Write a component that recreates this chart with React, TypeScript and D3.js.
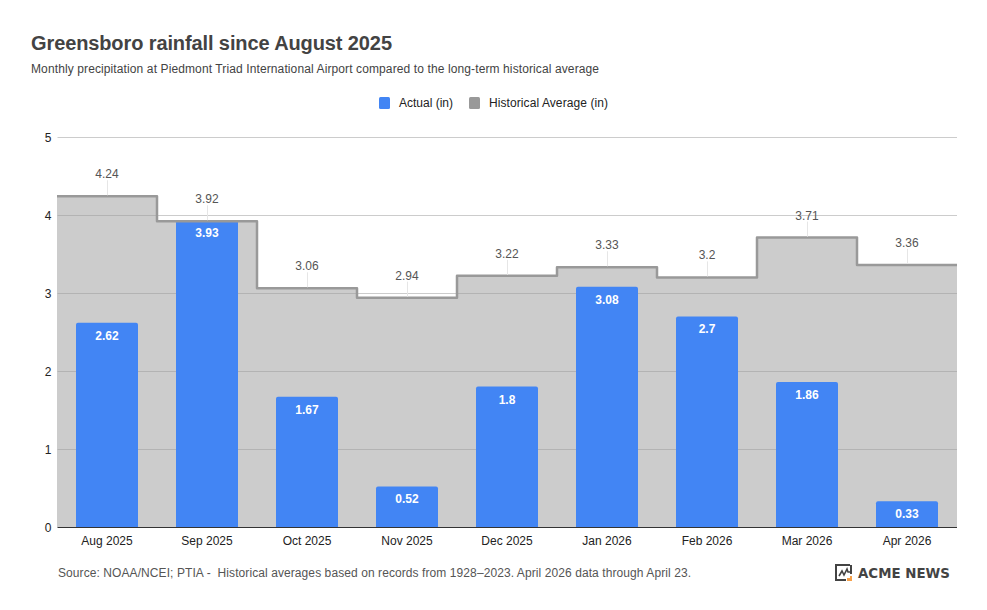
import { useEffect, useRef } from "react";
import * as d3 from "d3";

const months = ["Aug 2025", "Sep 2025", "Oct 2025", "Nov 2025", "Dec 2025", "Jan 2026", "Feb 2026", "Mar 2026", "Apr 2026"];
const actual = [2.62, 3.93, 1.67, 0.52, 1.8, 3.08, 2.7, 1.86, 0.33];
const historical = [4.24, 3.92, 3.06, 2.94, 3.22, 3.33, 3.2, 3.71, 3.36];
const yTicks = [0, 1, 2, 3, 4, 5];

const WIDTH = 987;
const HEIGHT = 610;
const FONT = "'Liberation Sans', Arial, sans-serif";

export default function App() {
  const svgRef = useRef<SVGSVGElement>(null);

  useEffect(() => {
    if (!svgRef.current) return;
    const svg = d3.select(svgRef.current);
    svg.selectAll("*").remove();

    const x = d3.scaleBand<string>().domain(months).range([57, 957]).paddingInner(0.38).paddingOuter(0.19);
    const step = x.step();
    const left = (i: number) => x(months[i])! + x.bandwidth() / 2 - step / 2;
    const y = d3.scaleLinear().domain([0, 5]).range([527, 137]);

    svg.append("rect").attr("width", WIDTH).attr("height", HEIGHT).attr("fill", "#fff");

    // Gridlines
    svg.selectAll("line.grid")
      .data(yTicks.filter((t) => t > 0))
      .join("line")
      .attr("x1", 57.5)
      .attr("x2", 957)
      .attr("y1", (d) => y(d) + 0.5)
      .attr("y2", (d) => y(d) + 0.5)
      .attr("stroke", "#cccccc");

    // Stepped historical area, last value repeated to close the final band
    const stepData: [number, number][] = historical.map((v, i) => [left(i), v]);
    stepData.push([left(months.length - 1) + step, historical[historical.length - 1]]);

    const area = d3.area<[number, number]>()
      .curve(d3.curveStepAfter)
      .x((d) => d[0])
      .y0(y(0))
      .y1((d) => y(d[1]));
    const line = d3.line<[number, number]>()
      .curve(d3.curveStepAfter)
      .x((d) => d[0])
      .y((d) => y(d[1]));

    svg.append("path").attr("d", area(stepData)).attr("fill", "#999999").attr("fill-opacity", 0.5);

    // Bars
    svg.selectAll("path.bar")
      .data(actual)
      .join("path")
      .attr("fill", "#4285f4")
      .attr("d", (d, i) => {
        const bx = x(months[i])!;
        const w = x.bandwidth();
        const top = y(d);
        const r = 2;
        return `M${bx},${y(0)}V${top + r}Q${bx},${top} ${bx + r},${top}H${bx + w - r}Q${bx + w},${top} ${bx + w},${top + r}V${y(0)}Z`;
      });

    svg.append("path")
      .attr("d", line(stepData))
      .attr("fill", "none")
      .attr("stroke", "#999999")
      .attr("stroke-width", 2.5)
      .attr("stroke-linejoin", "round");

    // Leader lines and historical labels
    svg.selectAll("line.leader")
      .data(historical)
      .join("line")
      .attr("x1", (_, i) => x(months[i])! + x.bandwidth() / 2 + 0.5)
      .attr("x2", (_, i) => x(months[i])! + x.bandwidth() / 2 + 0.5)
      .attr("y1", (d) => y(d) - 1)
      .attr("y2", (d) => y(d) - 16)
      .attr("stroke", "#e6e6e6");

    svg.selectAll("text.hist")
      .data(historical)
      .join("text")
      .attr("x", (_, i) => x(months[i])! + x.bandwidth() / 2)
      .attr("y", (d) => y(d) - 18)
      .attr("text-anchor", "middle")
      .attr("font-family", FONT)
      .attr("font-size", 12)
      .attr("fill", "#555555")
      .text((d) => String(d));

    // Bar labels
    svg.selectAll("text.val")
      .data(actual)
      .join("text")
      .attr("x", (_, i) => x(months[i])! + x.bandwidth() / 2)
      .attr("y", (d) => y(d) + 17)
      .attr("text-anchor", "middle")
      .attr("font-family", FONT)
      .attr("font-size", 12)
      .attr("font-weight", 700)
      .attr("fill", "#ffffff")
      .text((d) => String(d));

    // Axes
    svg.append("line")
      .attr("x1", 57.5)
      .attr("x2", 957)
      .attr("y1", 527.5)
      .attr("y2", 527.5)
      .attr("stroke", "#333333");

    svg.selectAll("text.ytick")
      .data(yTicks)
      .join("text")
      .attr("x", 48)
      .attr("y", (d) => y(d) + 4.5)
      .attr("text-anchor", "middle")
      .attr("font-family", FONT)
      .attr("font-size", 12)
      .attr("fill", "#222222")
      .text((d) => d);

    svg.selectAll("text.xtick")
      .data(months)
      .join("text")
      .attr("x", (d) => x(d)! + x.bandwidth() / 2)
      .attr("y", 545)
      .attr("text-anchor", "middle")
      .attr("font-family", FONT)
      .attr("font-size", 12)
      .attr("fill", "#222222")
      .text((d) => d);

    // Titles
    svg.append("text")
      .attr("x", 31)
      .attr("y", 50)
      .attr("font-family", FONT)
      .attr("font-size", 20)
      .attr("font-weight", 700)
      .attr("textLength", 361)
      .attr("fill", "#434343")
      .text("Greensboro rainfall since August 2025");
    svg.append("text")
      .attr("x", 31)
      .attr("y", 73)
      .attr("font-family", FONT)
      .attr("font-size", 12)
      .attr("textLength", 568)
      .attr("fill", "#434343")
      .text("Monthly precipitation at Piedmont Triad International Airport compared to the long-term historical average");

    // Legend
    const legend = [
      { label: "Actual (in)", color: "#4285f4", sx: 379, tx: 399, len: 54 },
      { label: "Historical Average (in)", color: "#999999", sx: 469, tx: 489, len: 119 },
    ];
    legend.forEach((l) => {
      svg.append("rect").attr("x", l.sx).attr("y", 97).attr("width", 11).attr("height", 12).attr("rx", 1.5).attr("fill", l.color);
      svg.append("text")
        .attr("x", l.tx)
        .attr("y", 107)
        .attr("font-family", FONT)
        .attr("font-size", 12)
        .attr("textLength", l.len)
        .attr("fill", "#222222")
        .text(l.label);
    });

    // Source
    svg.append("text")
      .attr("x", 58)
      .attr("y", 577)
      .attr("font-family", FONT)
      .attr("font-size", 12)
      .attr("textLength", 633)
      .attr("fill", "#555555")
      .style("white-space", "pre")
      .text("Source: NOAA/NCEI; PTIA -  Historical averages based on records from 1928\u20132023. April 2026 data through April 23.");

    // Logo
    const logo = svg.append("g").attr("transform", "translate(835,564)");
    logo.append("path")
      .attr("d", "M15,1H1V16H11")
      .attr("fill", "none")
      .attr("stroke", "#434343")
      .attr("stroke-width", 2);
    logo.append("path")
      .attr("d", "M16,1V10")
      .attr("fill", "none")
      .attr("stroke", "#434343")
      .attr("stroke-width", 2);
    logo.append("path")
      .attr("d", "M4,12L7,7L9,11L12,5L13,8H15")
      .attr("fill", "none")
      .attr("stroke", "#434343")
      .attr("stroke-width", 1.6);
    logo.append("path").attr("d", "M12,14H15V12H17V17H12Z").attr("fill", "#f5a04a");
    svg.append("text")
      .attr("x", 858)
      .attr("y", 578)
      .attr("font-family", "'DejaVu Sans', sans-serif")
      .attr("font-size", 14)
      .attr("font-weight", 700)
      .attr("textLength", 92)
      .attr("lengthAdjust", "spacingAndGlyphs")
      .attr("fill", "#434343")
      .text("ACME NEWS");
  }, []);

  return <svg ref={svgRef} width={WIDTH} height={HEIGHT} style={{ position: "absolute", left: 0, top: 0 }} />;
}
